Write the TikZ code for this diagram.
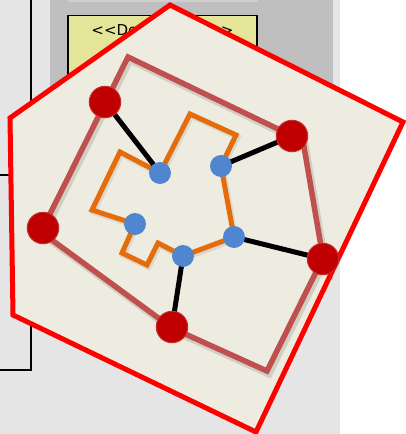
\documentclass[tikz,border=0pt]{standalone}
\usepackage{fontspec}
\newfontfamily\labfont{DejaVu Sans}
\definecolor{bglight}{HTML}{E5E5E5}
\definecolor{panel}{HTML}{BFBFBF}
\definecolor{strip}{HTML}{D0D0D0}
\definecolor{boxyellow}{HTML}{E5E59A}
\definecolor{paper}{HTML}{EEECE1}
\definecolor{redline}{HTML}{FF0000}
\definecolor{brownline}{HTML}{C0504D}
\definecolor{dotred}{HTML}{C00000}
\definecolor{orangeline}{HTML}{E46C0A}
\definecolor{dotblue}{HTML}{4F86CF}
\begin{document}
\begin{tikzpicture}[x=1pt,y=-1pt,
  reddot/.style={circle,fill=dotred,draw=brownline!60!dotred,line width=1pt,minimum size=31.5pt,inner sep=0pt},
  bluedot/.style={circle,fill=dotblue,minimum size=22pt,inner sep=0pt},
  link/.style={line width=5pt,black},
  outline/.style={line width=5pt,draw=redline,fill=paper},
  brownpoly/.style={line width=5.5pt,draw=brownline},
  orangepoly/.style={line width=5pt,draw=orangeline},
  shade/.style={line width=7pt,draw=black,opacity=0.12}]
\useasboundingbox (0,0) rectangle (405,434);
% backgrounds
\fill[white] (0,0) rectangle (405,434);
\fill[bglight] (0,0) rectangle (340,434);
\draw[line width=1.5pt] (31,-2) -- (31,370) -- (-2,370);
\draw[line width=1.5pt] (-2,175) -- (31,175);
\fill[panel] (50,-2) rectangle (333,280);
\fill[strip] (68,-2) rectangle (258,1.5);
\filldraw[fill=boxyellow,draw=black,line width=1.5pt] (68,15.5) rectangle (257,100);
\node[font=\labfont\fontsize{15}{18}\selectfont,anchor=base,inner sep=0pt] (stereo) at (162.5,35) {\textless\textless Deployment\textgreater\textgreater};
% pentagon
\path[outline] (170,5) -- (403,122) -- (256,432) -- (13,315) -- (10,118) -- cycle;
% brown polygon with shadow
\draw[shade] (130,60) -- (305,144) -- (325,261) -- (269,374) -- (174,331) -- (43,235) -- cycle;
\draw[brownpoly] (128,57) -- (303,141) -- (323,258) -- (267,371) -- (172,328) -- (41,232) -- cycle;
% orange polygon with shadow
\draw[shade,line width=6pt,opacity=0.08] (191.5,116) -- (237.5,137) -- (222.5,168) -- (235.5,239) -- (184.5,258) -- (159.5,245) -- (148.5,267) -- (123.5,255) -- (136.5,226) -- (93.5,212) -- (121.5,154) -- (161.5,175) -- cycle;
\draw[orangepoly] (190,114) -- (236,135) -- (221,166) -- (234,237) -- (183,256) -- (158,243) -- (147,265) -- (122,253) -- (135,224) -- (92,210) -- (120,152) -- (160,173) -- cycle;
% dot positions
\coordinate (r1) at (105,102);
\coordinate (r2) at (292,136);
\coordinate (r3) at (323,259);
\coordinate (r4) at (172,327);
\coordinate (r5) at (43,228);
\coordinate (b1) at (160,173);
\coordinate (b2) at (135,224);
\coordinate (b3) at (221,166);
\coordinate (b4) at (183,256);
\coordinate (b5) at (234,237);
% links
\draw[link] (r1) -- (b1);
\draw[link] (b3) -- (r2);
\draw[link] (b5) -- (r3);
\draw[link] (b4) -- (r4);
% dots
\node[reddot] (R1) at (r1) {};
\node[reddot] (R2) at (r2) {};
\node[reddot] (R3) at (r3) {};
\node[reddot] (R4) at (r4) {};
\node[reddot] (R5) at (r5) {};
\node[bluedot] (B1) at (b1) {};
\node[bluedot] (B2) at (b2) {};
\node[bluedot] (B3) at (b3) {};
\node[bluedot] (B4) at (b4) {};
\node[bluedot] (B5) at (b5) {};
\end{tikzpicture}
\end{document}
